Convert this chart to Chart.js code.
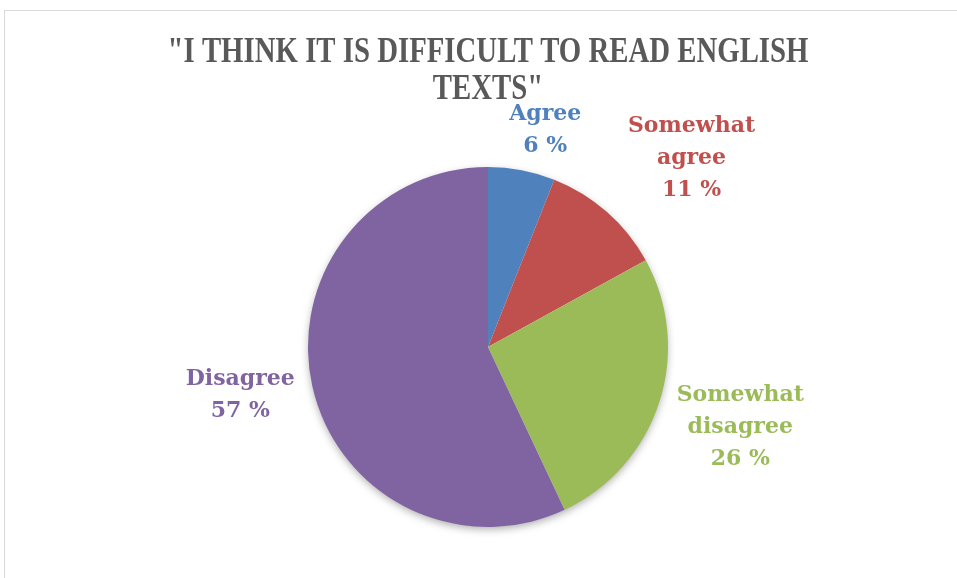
<!DOCTYPE html>
<html>
<head>
<meta charset="utf-8">
<script src="https://cdn.jsdelivr.net/npm/chart.js@4.4.0/dist/chart.umd.min.js"></script>
<style>
  body { margin: 0; background: #fff; }
  #wrap { position: relative; width: 957px; height: 578px; overflow: hidden; }
  #frame { position: absolute; left: 4px; top: 10px; width: 970px; height: 600px; border: 1px solid #d9d9d9; }
  #pie { position: absolute; left: 0; top: 0; }
</style>
</head>
<body>
<div id="wrap">
  <div id="frame"></div>
  <canvas id="pie" width="957" height="578"></canvas>
</div>
<script>
// data
const titleLines = ['"I THINK IT IS DIFFICULT TO READ ENGLISH', 'TEXTS"'];
const categories = ['Agree', 'Somewhat agree', 'Somewhat disagree', 'Disagree'];
const labelLines = [['Agree'], ['Somewhat', 'agree'], ['Somewhat', 'disagree'], ['Disagree']];
const percents = [6, 11, 26, 57];

// styles
const colors = ['#4F81BD', '#C0504D', '#9BBB59', '#8064A2'];
const labelNudge = [[16, -1], [58, -24], [43, 12], [-33, 0]];

// title - condensed serif, drawn by hand
const titlePlugin = {
  id: 'condensedTitle',
  afterDraw(chart) {
    const ctx = chart.ctx;
    ctx.save();
    ctx.fillStyle = '#595959';
    ctx.font = 'bold 36px "Liberation Serif"';
    ctx.textAlign = 'center';
    ctx.textBaseline = 'alphabetic';
    const ys = [62, 99];
    titleLines.forEach((line, i) => {
      ctx.save();
      ctx.translate(488, ys[i]);
      ctx.scale(0.8, 1);
      ctx.fillText(line, 0, 0);
      ctx.restore();
    });
    ctx.restore();
  }
};

// soft shadow under the whole pie
const shadowPlugin = {
  id: 'pieShadow',
  beforeDatasetsDraw(chart) {
    const arc = chart.getDatasetMeta(0).data[0];
    if (!arc) return;
    const ctx = chart.ctx;
    ctx.save();
    ctx.shadowColor = 'rgba(0,0,0,0.35)';
    ctx.shadowBlur = 9;
    ctx.shadowOffsetY = 3;
    ctx.fillStyle = '#fff';
    ctx.beginPath();
    ctx.arc(arc.x, arc.y, arc.outerRadius - 1, 0, Math.PI * 2);
    ctx.fill();
    ctx.restore();
  }
};

// outside labels: name + percent
const labelPlugin = {
  id: 'outsideLabels',
  afterDatasetsDraw(chart) {
    const ctx = chart.ctx;
    const meta = chart.getDatasetMeta(0);
    ctx.save();
    ctx.font = 'bold 22px "DejaVu Serif"';
    ctx.textAlign = 'center';
    ctx.textBaseline = 'middle';
    meta.data.forEach((arc, i) => {
      const mid = (arc.startAngle + arc.endAngle) / 2;
      const dist = arc.outerRadius + 40;
      const x = arc.x + Math.cos(mid) * dist + labelNudge[i][0];
      const y = arc.y + Math.sin(mid) * dist + labelNudge[i][1];
      const lines = labelLines[i].concat([percents[i] + ' %']);
      const lh = 32;
      const top = y - (lines.length - 1) * lh / 2;
      ctx.fillStyle = colors[i];
      lines.forEach((t, k) => ctx.fillText(t, x, top + k * lh));
    });
    ctx.restore();
  }
};

new Chart(document.getElementById('pie'), {
  type: 'pie',
  data: {
    labels: categories,
    datasets: [{
      data: percents,
      backgroundColor: colors,
      borderWidth: 0
    }]
  },
  options: {
    responsive: false,
    animation: false,
    layout: { padding: { top: 167, bottom: 51, left: 308, right: 289 } },
    plugins: {
      legend: { display: false },
      tooltip: { enabled: false },
      title: { display: false }
    }
  },
  plugins: [shadowPlugin, labelPlugin, titlePlugin]
});
</script>
</body>
</html>
